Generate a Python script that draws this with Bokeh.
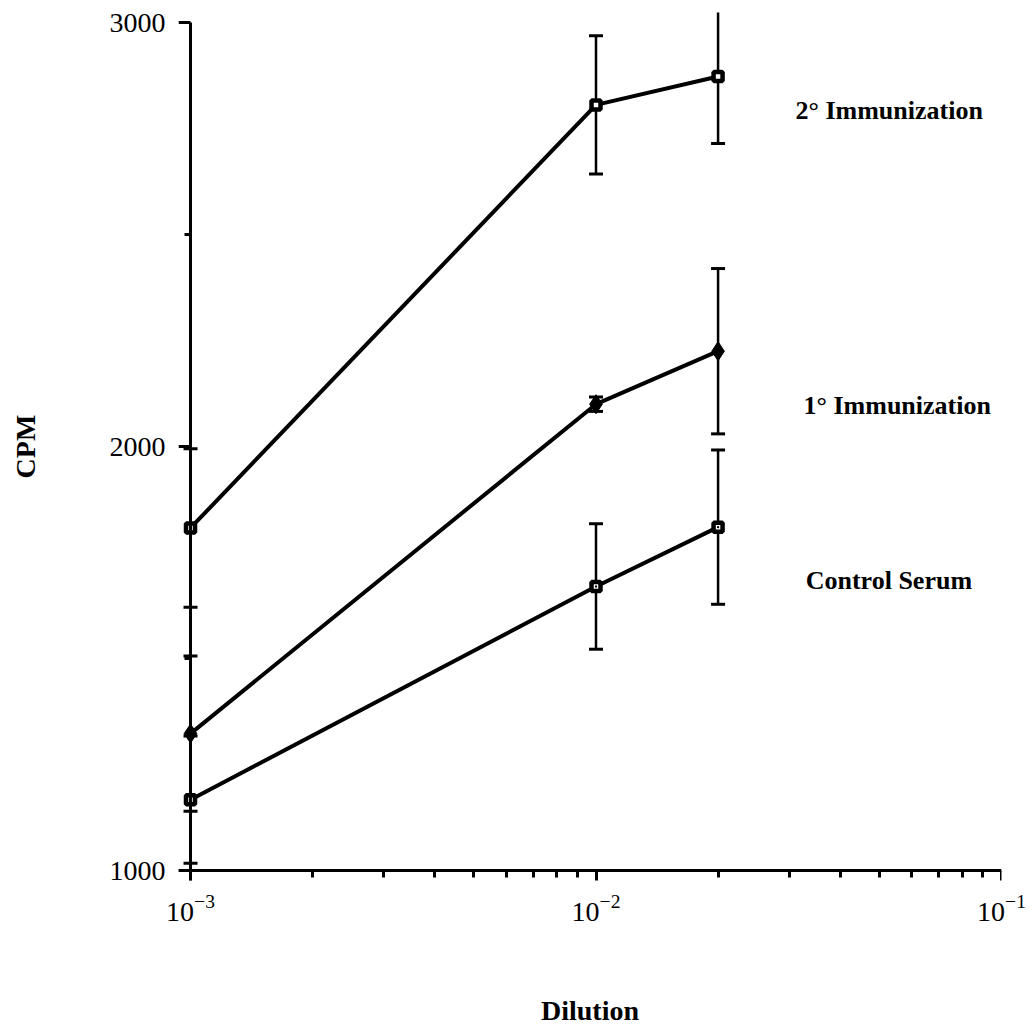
import numpy as np
from bokeh.plotting import figure
from bokeh.models import (Range1d, FixedTicker, Label, ColumnDataSource,
                          LogTickFormatter, LogAxis, LinearAxis,
                          CustomJSTickFormatter)
from bokeh.embed import file_html
from bokeh.resources import INLINE

# ---- data ----
dilution = [0.001, 0.01, 0.02]
secondary = [1808, 2806, 2873]
secondary_err = [187, 163, 158]
primary = [1323, 2100, 2225]
primary_err = [183, 17, 195]
control = [1167, 1670, 1810]
control_err = [150, 148, 182]

x_major_ticks = [1e-3, 1e-2, 1e-1]
x_minor_ticks = [k * 1e-3 for k in range(2, 10)] + [k * 1e-2 for k in range(2, 10)]
y_major_ticks = [1000, 2000, 3000]
y_minor_ticks = [1500, 2500]

series_names = ["2° Immunization", "1° Immunization", "Control Serum"]
label_x = [0.03105, 0.0325, 0.0329]
label_y = [2792, 2097, 1684]

FONT = "Liberation Serif"

x_start = 10 ** (-3 - 12 / 405.5)
y_start = 1000 - 10 / 0.424

p = figure(width=1033, height=1033, x_axis_type="log",
           x_axis_location=None, y_axis_location=None,
           x_range=Range1d(x_start, 1e-1), y_range=Range1d(y_start, 3024),
           output_backend="svg", toolbar_location=None,
           min_border_left=178, min_border_right=32,
           min_border_top=12, min_border_bottom=153)
p.grid.visible = False
p.outline_line_color = None
p.background_fill_color = "white"
p.border_fill_color = "white"


def style_labels(ax, label_standoff, title_standoff, label_size):
    ax.axis_line_color = None
    ax.major_tick_line_color = None
    ax.minor_tick_line_color = None
    ax.major_tick_out = 0
    ax.major_tick_in = 0
    ax.minor_tick_out = 0
    ax.minor_tick_in = 0
    ax.major_label_standoff = label_standoff
    ax.major_label_text_font = FONT
    ax.major_label_text_font_size = label_size
    ax.major_label_text_color = "black"
    ax.axis_label_standoff = title_standoff
    ax.axis_label_text_font = FONT
    ax.axis_label_text_font_style = "bold"
    ax.axis_label_text_font_size = "28px"
    ax.axis_label_text_color = "black"


def style_line(ax, major_out, minor_out):
    ax.formatter = CustomJSTickFormatter(code="return ''")
    ax.axis_line_width = 3
    ax.axis_line_color = "black"
    ax.major_tick_line_width = 3
    ax.minor_tick_line_width = 3
    ax.major_tick_line_color = "black"
    ax.minor_tick_line_color = "black"
    ax.major_tick_in = 0
    ax.minor_tick_in = 0
    ax.major_tick_out = major_out
    ax.minor_tick_out = minor_out
    ax.major_label_standoff = 0


# labels-only axes (at the frame edge)
ylab = LinearAxis(ticker=FixedTicker(ticks=y_major_ticks), axis_label="CPM")
style_labels(ylab, 13, 66, "28px")
p.add_layout(ylab, "left")

xlab = LogAxis(ticker=FixedTicker(ticks=x_major_ticks),
               formatter=LogTickFormatter(), axis_label="Dilution")
style_labels(xlab, 14, 71, "28px")
p.add_layout(xlab, "below")

# line + tick axes, placed at x = 1e-3 and y = 1000
yline = LinearAxis(ticker=FixedTicker(ticks=y_major_ticks, minor_ticks=y_minor_ticks),
                   fixed_location=1e-3, bounds=(y_start, 3000))
style_line(yline, 12, 6)
p.add_layout(yline, "left")

xline = LogAxis(ticker=FixedTicker(ticks=x_major_ticks, minor_ticks=x_minor_ticks),
                fixed_location=1000)
style_line(xline, 11, 7)
p.add_layout(xline, "below")

all_series = [(secondary, secondary_err, "open"),
              (primary, primary_err, "filled"),
              (control, control_err, "dot")]

for vals, errs, style in all_series:
    v = np.array(vals, dtype=float)
    e = np.array(errs, dtype=float)
    src = ColumnDataSource(dict(x=dilution, y=v, lo=v - e, hi=v + e))
    p.line("x", "y", source=src, line_width=4, line_color="black")
    p.segment(x0="x", y0="lo", x1="x", y1="hi", source=src,
              line_width=2.5, line_color="black")
    p.scatter("x", "lo", source=src, marker="dash", size=14,
              line_width=3, line_color="black")
    p.scatter("x", "hi", source=src, marker="dash", size=14,
              line_width=3, line_color="black")

for vals, errs, style in all_series:
    src = ColumnDataSource(dict(x=dilution, y=vals))
    if style == "filled":
        p.scatter("x", "y", source=src, marker="diamond", size=19,
                  fill_color="black", line_color="black", line_width=1)
    else:
        p.scatter("x", "y", source=src, marker="square", size=9,
                  fill_color="white", line_color="black", line_width=4.5)
        if style == "dot":
            p.scatter("x", "y", source=src, marker="square", size=2,
                      fill_color="black", line_color=None)

for name, lx, ly in zip(series_names, label_x, label_y):
    p.add_layout(Label(x=lx, y=ly, text=name, text_font=FONT,
                       text_font_style="bold", text_font_size="26px",
                       text_baseline="middle", text_align="left",
                       text_color="black"))

open("out.html", "w").write(file_html(p, INLINE))
